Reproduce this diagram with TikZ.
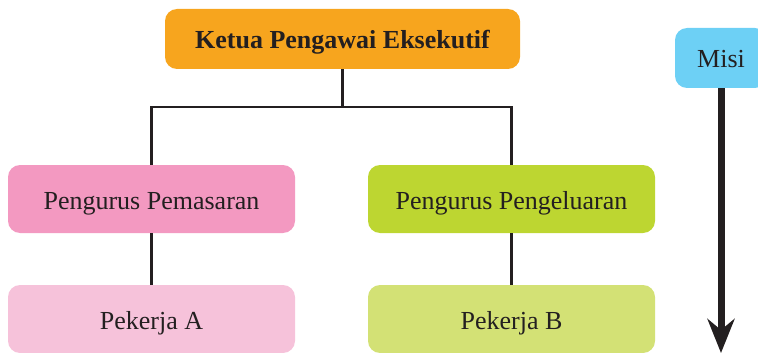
\documentclass[tikz,border=0pt]{standalone}
\usepackage{fontspec}
\setmainfont{Liberation Serif}
\usetikzlibrary{arrows.meta}

\definecolor{inkdark}{HTML}{231F20}
\definecolor{ceoorange}{HTML}{F7A51E}
\definecolor{mktpink}{HTML}{F399C1}
\definecolor{mktpinklight}{HTML}{F6C2DA}
\definecolor{prodgreen}{HTML}{BDD631}
\definecolor{prodgreenlight}{HTML}{D3E175}
\definecolor{misiblue}{HTML}{6DD0F5}

\tikzset{
    orgbox/.style={rectangle, rounded corners=12pt, inner sep=0pt, align=center,
        text=inkdark, text height=20pt, text depth=0pt,
        font=\fontsize{26}{30}\selectfont},
    link/.style={draw=inkdark, line width=2.6pt},
    misiarrow/.style={draw=inkdark, line width=7pt,
        -{Stealth[length=34pt, width=27pt, inset=11pt]}}
}

\begin{document}
\begin{tikzpicture}[x=1pt, y=-1pt]
    \useasboundingbox (0,0) rectangle (758,353);

    \node[orgbox, fill=ceoorange, minimum width=355pt, minimum height=60pt,
        font=\fontsize{26}{30}\selectfont\bfseries] (ceo) at (342.5,39) {Ketua Pengawai Eksekutif};

    \node[orgbox, fill=mktpink, minimum width=287pt, minimum height=68pt] (mkt) at (151.5,199) {Pengurus Pemasaran};
    \node[orgbox, fill=prodgreen, minimum width=287pt, minimum height=68pt] (prod) at (511.5,199) {Pengurus Pengeluaran};

    \node[orgbox, fill=mktpinklight, minimum width=287pt, minimum height=68pt] (wa) at (151.5,319) {Pekerja A};
    \node[orgbox, fill=prodgreenlight, minimum width=287pt, minimum height=68pt] (wb) at (511.5,319) {Pekerja B};

    \node[orgbox, fill=misiblue, minimum width=92pt, minimum height=60pt] (misi) at (721,58) {Misi};
    \coordinate (misiend) at (721,353);

    \coordinate (bus) at (342.5,107);
    \draw[link] (ceo) -- (bus);
    \draw[link] (mkt.north) |- (bus) -| (prod.north);
    \draw[link] (mkt) -- (wa);
    \draw[link] (prod) -- (wb);

    \draw[misiarrow] (misi.south) -- (misiend);
\end{tikzpicture}
\end{document}
